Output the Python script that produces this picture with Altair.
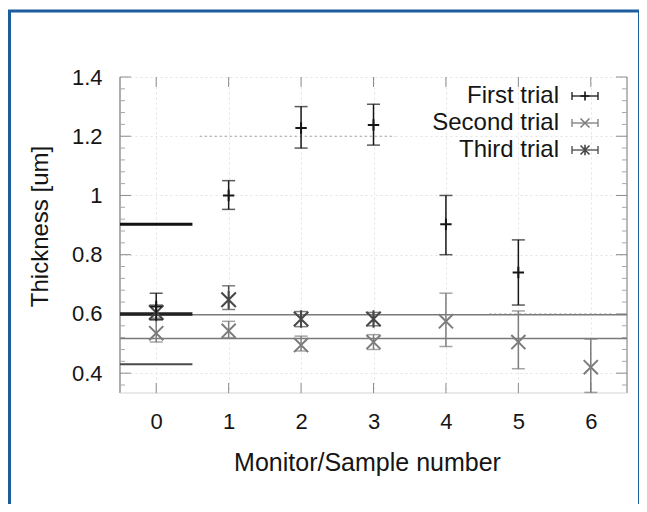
import altair as alt
import pandas as pd

# ---------------- data ----------------
samples = [0, 1, 2, 3, 4, 5, 6]

first_y = [0.625, 1.00, 1.228, 1.238, 0.903, 0.740, None]
first_lo = [0.580, 0.953, 1.160, 1.170, 0.800, 0.630, None]
first_hi = [0.670, 1.050, 1.300, 1.308, 1.000, 0.850, None]

second_y = [0.535, 0.543, 0.495, 0.505, 0.575, 0.505, 0.420]
second_lo = [0.505, 0.520, 0.475, 0.480, 0.490, 0.415, 0.335]
second_hi = [0.580, 0.575, 0.525, 0.530, 0.670, 0.610, 0.515]

third_y = [0.605, 0.648, 0.583, 0.583, None, None, None]
third_lo = [0.585, 0.615, 0.557, 0.560, None, None, None]
third_hi = [0.630, 0.695, 0.608, 0.605, None, None, None]

series_names = ["First trial", "Second trial", "Third trial"]
series_colors = ["#161616", "#7c7c7c", "#474747"]

# long reference lines across the whole plot
avg_levels = [0.597, 0.517]
# short thick lines over sample 0
mon_levels = [0.903, 0.600, 0.430]
mon_colors = ["#111111", "#222222", "#4a4a4a"]
mon_widths = [3.0, 3.5, 2.2]

# emphasised dotted grid segments
dot_y = [1.2, 0.6]
dot_x1 = [0.6, 4.6]
dot_x2 = [3.3, 6.3]

y_major = [0.4, 0.6, 0.8, 1.0, 1.2, 1.4]
y_minor = [0.36, 0.44, 0.48, 0.52, 0.56, 0.64, 0.68, 0.72, 0.76, 0.84, 0.88,
           0.92, 0.96, 1.04, 1.08, 1.12, 1.16, 1.24, 1.28, 1.32, 1.36]
x_ticks = [0, 1, 2, 3, 4, 5, 6]

# ---------------- layout ----------------
W, H = 507, 316
FONT = "Liberation Sans"
TXT = "#151515"

xs = alt.Scale(domain=[-0.5, 6.5], nice=False, zero=False)
ys = alt.Scale(domain=[0.333, 1.4], nice=False, zero=False)

XAX = alt.Axis(
    values=x_ticks, format="d", grid=True, gridColor="#e3e3e3", gridDash=[2, 3],
    ticks=False, domain=False, labelFontSize=22, labelFont=FONT, labelColor=TXT,
    labelPadding=18, title="Monitor/Sample number", titleFont=FONT, titleFontSize=25,
    titleFontWeight="normal", titleColor=TXT, titlePadding=18, titleX=247)
YAX = alt.Axis(
    values=y_major, format="~g", grid=True, gridColor="#e3e3e3", gridDash=[2, 3],
    ticks=False, domain=False, labelFontSize=22, labelFont=FONT, labelColor=TXT,
    labelPadding=18, title="Thickness [um]", titleFont=FONT, titleFontSize=24,
    titleFontWeight="normal", titleColor=TXT, titleX=-80, titleY=149,
    titleAlign="center", titleBaseline="middle")


def X(f):
    return alt.X(f, scale=xs, axis=XAX)


def Y(f):
    return alt.Y(f, scale=ys, axis=YAX)


shapes = [
    "M-1,0L1,0M0,-1L0,1",
    "M-1,-1L1,1M-1,1L1,-1",
    "M-1,-1L1,1M-1,1L1,-1M0,-1.2L0,1.2",
]
msizes = [130, 200, 210]

layers = []

# axes carrier (grid + labels)
axis_df = pd.DataFrame({"x": [0.0], "y": [1.0]})
layers.append(alt.Chart(axis_df).mark_point(opacity=0).encode(x=X("x:Q"), y=Y("y:Q")))

# emphasised dotted segments
dot_df = pd.DataFrame({"y": dot_y, "x1": dot_x1, "x2": dot_x2})
layers.append(alt.Chart(dot_df).mark_rule(color="#9a9a9a", strokeDash=[2, 3], strokeWidth=1).encode(
    x=X("x1:Q"), x2="x2:Q", y=Y("y:Q")))

# frame lines
frame_col = "#8a8a8a"
layers.append(alt.Chart(axis_df).mark_rule(color="#777777", strokeWidth=1.2).encode(
    x=alt.value(0), y=alt.value(0), y2=alt.value(H)))
layers.append(alt.Chart(axis_df).mark_rule(color=frame_col, strokeWidth=1.2).encode(
    x=alt.value(W), y=alt.value(0), y2=alt.value(H)))
layers.append(alt.Chart(axis_df).mark_rule(color="#d4d4d4", strokeWidth=1).encode(
    x=alt.value(0), x2=alt.value(W), y=alt.value(H)))

# tick marks (inward, gnuplot-like)
ymaj_df = pd.DataFrame({"y": y_major})
ymin_df = pd.DataFrame({"y": y_minor})
xt_df = pd.DataFrame({"x": x_ticks})
tick_col = "#8c8c8c"
for (a, b) in [(0, 11), (W - 11, W)]:
    layers.append(alt.Chart(ymaj_df).mark_rule(color=tick_col, strokeWidth=1).encode(
        y=Y("y:Q"), x=alt.value(a), x2=alt.value(b)))
for (a, b) in [(0, 5), (W - 5, W)]:
    layers.append(alt.Chart(ymin_df).mark_rule(color="#a8a8a8", strokeWidth=1).encode(
        y=Y("y:Q"), x=alt.value(a), x2=alt.value(b)))
for (a, b) in [(0, 10), (H - 10, H)]:
    layers.append(alt.Chart(xt_df).mark_rule(color=tick_col, strokeWidth=1).encode(
        x=X("x:Q"), y=alt.value(a), y2=alt.value(b)))

# long average lines
avg_df = pd.DataFrame({"y": avg_levels})
layers.append(alt.Chart(avg_df).mark_rule(color="#7a7a7a", strokeWidth=1.5).encode(
    y=Y("y:Q"), x=alt.value(0), x2=alt.value(W)))

# short thick monitor lines over sample 0
mon_df = pd.DataFrame({"y": mon_levels, "c": mon_colors, "w": mon_widths,
                       "x1": [-0.5] * 3, "x2": [0.5] * 3})
layers.append(alt.Chart(mon_df).mark_rule().encode(
    x=X("x1:Q"), x2="x2:Q", y=Y("y:Q"),
    color=alt.Color("c:N", scale=None), strokeWidth=alt.StrokeWidth("w:Q", scale=None)))

# series with error bars
all_y = [first_y, second_y, third_y]
all_lo = [first_lo, second_lo, third_lo]
all_hi = [first_hi, second_hi, third_hi]
for k in [1, 2, 0]:
    df = pd.DataFrame({"x": samples, "y": all_y[k], "lo": all_lo[k], "hi": all_hi[k]}).dropna()
    col = series_colors[k]
    base = alt.Chart(df)
    layers.append(base.mark_rule(color=col, strokeWidth=1.5).encode(
        x=X("x:Q"), y=Y("lo:Q"), y2="hi:Q"))
    for f in ["lo", "hi"]:
        layers.append(base.mark_tick(color=col, orient="horizontal", size=13, thickness=1.5).encode(
            x=X("x:Q"), y=Y(f + ":Q")))
    layers.append(base.mark_point(shape=shapes[k], size=msizes[k], filled=False, color=col,
                                  strokeWidth=2, opacity=1).encode(
        x=X("x:Q"), y=Y("y:Q")))

# legend (drawn by hand, gnuplot style)
leg_df = pd.DataFrame({"label": series_names, "i": [0, 1, 2]})
leg = alt.Chart(leg_df).transform_calculate(
    ypx="19 + datum.i * 27", ya="15 + datum.i * 27", yb="23 + datum.i * 27")
layers.append(leg.mark_text(align="right", baseline="middle", font=FONT, fontSize=24,
                            color=TXT).encode(
    x=alt.value(439), y=alt.Y("ypx:Q", scale=None), text="label:N"))
for k in range(3):
    lk = leg.transform_filter(f"datum.i == {k}")
    col = series_colors[k]
    layers.append(lk.mark_rule(color=col, strokeWidth=1.3).encode(
        x=alt.value(452), x2=alt.value(478), y=alt.Y("ypx:Q", scale=None)))
    for xv in [452, 478]:
        layers.append(lk.mark_rule(color=col, strokeWidth=1.3).encode(
            x=alt.value(xv), y=alt.Y("ya:Q", scale=None), y2="yb:Q"))
    layers.append(lk.mark_point(shape=shapes[k], size=80, filled=False, color=col,
                                strokeWidth=1.6, opacity=1).encode(
        x=alt.value(465), y=alt.Y("ypx:Q", scale=None)))

# outer blue frame (left, top, right)
blue = "#1c5d9e"
layers.append(alt.Chart(axis_df).mark_rule(color=blue, strokeWidth=3).encode(
    x=alt.value(-110.5), y=alt.value(-66), y2=alt.value(430)))
layers.append(alt.Chart(axis_df).mark_rule(color=blue, strokeWidth=3).encode(
    x=alt.value(-112), x2=alt.value(521), y=alt.value(-66)))
layers.append(alt.Chart(axis_df).mark_rule(color=blue, strokeWidth=3).encode(
    x=alt.value(519.5), y=alt.value(-66), y2=alt.value(430)))

chart = alt.layer(*layers).properties(
    width=W, height=H,
    autosize=alt.AutoSizeParams(type="none"),
    padding={"left": 112, "top": 69, "right": 12, "bottom": 111},
    background="white",
).configure_view(stroke=None)

chart.save("out.html", embed_options={"renderer": "svg", "actions": False})
